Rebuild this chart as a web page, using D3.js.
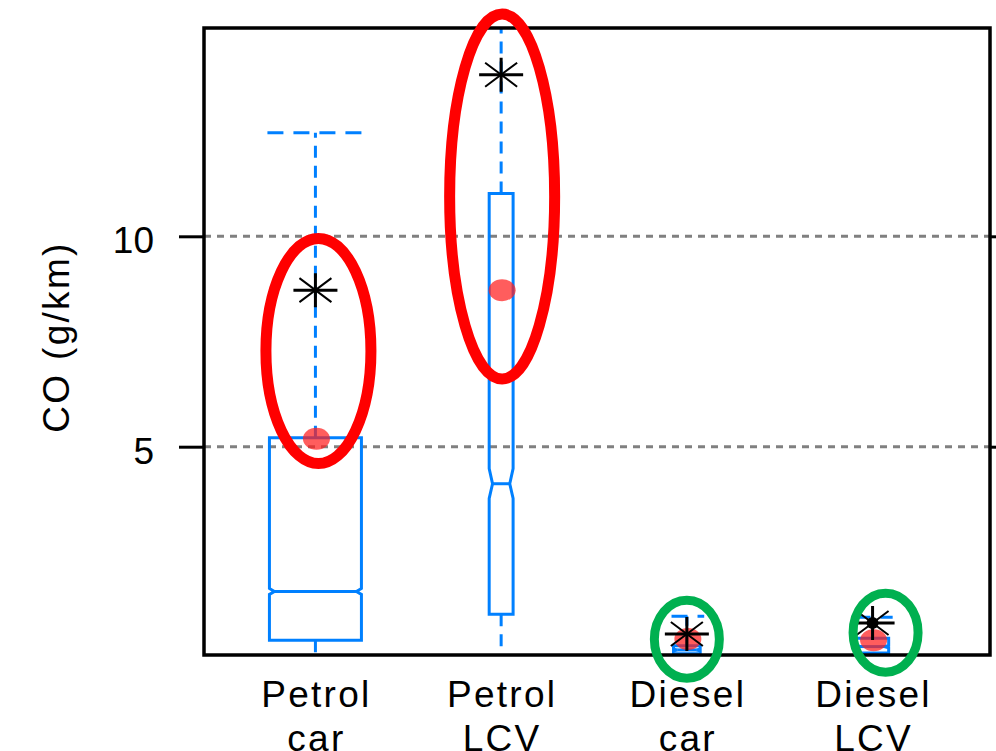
<!DOCTYPE html>
<html>
<head>
<meta charset="utf-8">
<script src="https://cdn.jsdelivr.net/npm/d3@7"></script>
<style>
  html, body { margin: 0; padding: 0; background: #fff; }
  svg { display: block; font-family: "Liberation Sans", Arial, sans-serif; }
</style>
</head>
<body>
<svg width="996" height="751"></svg>
<script>
// categories and box statistics (CO, g/km)
var categories = [["Petrol", "car"], ["Petrol", "LCV"], ["Diesel", "car"], ["Diesel", "LCV"]];
var whiskerLow  = [0.0, 0.0, 0.0, 0.0];
var q1          = [0.40, 1.02, 0.08, 0.10];
var median      = [1.56, 4.12, 0.17, 0.25];
var q3          = [5.21, 11.02, 0.27, 0.45];
var whiskerHigh = [12.46, 16.0, 0.97, 0.95];
var notchLow    = [1.49, 3.77, 0.15, 0.22];
var notchHigh   = [1.63, 4.48, 0.19, 0.28];
var relWidth    = [1, 0.26, 0.29, 0.35];
var meanStar    = [8.72, 13.84, 0.55, 0.81];
var redPoint    = [5.19, 8.72, 0.43, 0.40];
var blackPoint  = [null, null, null, 0.81];
var yTicks = [5, 10];

// annotation ellipses: category index, low and high value they cover, colour
var rings = [
  {i: 0, lo: 4.60, hi: 9.95, dx: 3, color: "#ff0000"},
  {i: 1, lo: 6.61, hi: 15.28, dx: 1, color: "#ff0000"},
  {i: 2, lo: -0.50, hi: 1.35, dx: 0, color: "#00b050"},
  {i: 3, lo: -0.36, hi: 1.52, dx: 13, color: "#00b050"}
];

(function() {
  var svg = d3.select("svg");
  var pLeft = 204, pRight = 990, pTop = 28, pBottom = 655;
  var blue = "#0080ff";
  var maxBox = 92;

  var x = d3.scalePoint().domain(d3.range(categories.length)).range([pLeft, 984]).padding(0.6);
  var y = d3.scaleLinear().domain([0.05, 14.95]).range([pBottom, pTop]);

  svg.append("defs").append("clipPath").attr("id", "plotclip")
    .append("rect").attr("x", pLeft).attr("y", pTop).attr("width", pRight - pLeft).attr("height", pBottom - pTop);

  // grid lines
  svg.append("g").selectAll("line").data(yTicks).enter().append("line")
    .attr("x1", pLeft).attr("x2", pRight)
    .attr("y1", function(d) { return y(d); }).attr("y2", function(d) { return y(d); })
    .attr("stroke", "#808080").attr("stroke-width", 3).attr("stroke-dasharray", "7,6");

  var plot = svg.append("g").attr("clip-path", "url(#plotclip)");

  var rows = categories.map(function(c, i) {
    return {i: i, lo: whiskerLow[i], q1: q1[i], med: median[i], q3: q3[i], hi: whiskerHigh[i],
      nl: notchLow[i], nh: notchHigh[i], w: relWidth[i] * maxBox,
      mean: meanStar[i], red: redPoint[i], black: blackPoint[i]};
  });

  var box = plot.selectAll("g.box").data(rows).enter().append("g").attr("class", "box");

  // whiskers
  box.append("line")
    .attr("x1", function(d) { return x(d.i); }).attr("x2", function(d) { return x(d.i); })
    .attr("y1", function(d) { return y(d.q3); }).attr("y2", function(d) { return y(d.hi); })
    .attr("stroke", blue).attr("stroke-width", 3).attr("stroke-dasharray", "12,8");
  box.append("line")
    .attr("x1", function(d) { return x(d.i); }).attr("x2", function(d) { return x(d.i); })
    .attr("y1", function(d) { return y(d.q1); }).attr("y2", function(d) { return y(d.lo); })
    .attr("stroke", blue).attr("stroke-width", 3).attr("stroke-dasharray", "12,8");

  // caps
  box.selectAll("line.cap").data(function(d) { return [[d, d.hi], [d, d.lo]]; }).enter().append("line")
    .attr("class", "cap")
    .attr("x1", function(p) { return x(p[0].i) - p[0].w / 2 - 2; })
    .attr("x2", function(p) { return x(p[0].i) + p[0].w / 2 + 4; })
    .attr("y1", function(p) { return y(p[1]); }).attr("y2", function(p) { return y(p[1]); })
    .attr("stroke", blue).attr("stroke-width", 3).attr("stroke-dasharray", "16,10");

  // notched box
  function inset(d) { return Math.min(d.w * 0.14, 5); }
  box.append("path")
    .attr("d", function(d) {
      var cx = x(d.i), h = d.w / 2, ins = inset(d);
      return "M" + (cx - h) + "," + y(d.q1) +
        "L" + (cx - h) + "," + y(d.nl) +
        "L" + (cx - h + ins) + "," + y(d.med) +
        "L" + (cx - h) + "," + y(d.nh) +
        "L" + (cx - h) + "," + y(d.q3) +
        "L" + (cx + h) + "," + y(d.q3) +
        "L" + (cx + h) + "," + y(d.nh) +
        "L" + (cx + h - ins) + "," + y(d.med) +
        "L" + (cx + h) + "," + y(d.nl) +
        "L" + (cx + h) + "," + y(d.q1) + "Z";
    })
    .attr("fill", "none").attr("stroke", blue).attr("stroke-width", 3);
  box.append("line")
    .attr("x1", function(d) { return x(d.i) - d.w / 2 + inset(d); })
    .attr("x2", function(d) { return x(d.i) + d.w / 2 - inset(d); })
    .attr("y1", function(d) { return y(d.med); }).attr("y2", function(d) { return y(d.med); })
    .attr("stroke", blue).attr("stroke-width", 3);

  // red points
  plot.selectAll("ellipse.red").data(rows).enter().append("ellipse")
    .attr("cx", function(d) { return x(d.i) + 1; })
    .attr("cy", function(d) { return y(d.red); })
    .attr("rx", 13.5).attr("ry", 11)
    .attr("fill", "rgba(255,30,30,0.72)");

  // mean asterisks
  var star = plot.selectAll("g.star").data(rows).enter().append("g")
    .attr("transform", function(d) { return "translate(" + x(d.i) + "," + y(d.mean) + ")"; });
  star.append("path").attr("d", "M-22,0L22,0M0,-17L0,17")
    .attr("stroke", "#000").attr("stroke-width", 3);
  star.append("path").attr("d", "M-16,-12L16,12M-16,12L16,-12")
    .attr("stroke", "#000").attr("stroke-width", 2);

  plot.selectAll("circle.black").data(rows.filter(function(d) { return d.black != null; }))
    .enter().append("circle")
    .attr("cx", function(d) { return x(d.i); })
    .attr("cy", function(d) { return y(d.black); })
    .attr("r", 6).attr("fill", "#000");

  // frame and ticks
  svg.append("rect").attr("x", pLeft).attr("y", pTop).attr("width", pRight - pLeft).attr("height", pBottom - pTop)
    .attr("fill", "none").attr("stroke", "#000").attr("stroke-width", 3.5);

  var yAxisL = d3.axisLeft(y).tickValues(yTicks).tickSize(25).tickPadding(25).tickFormat(d3.format("d"));
  var gL = svg.append("g").attr("transform", "translate(" + pLeft + ",0)").call(yAxisL);
  gL.select(".domain").remove();
  gL.selectAll(".tick line").attr("stroke", "#000").attr("stroke-width", 3);
  gL.selectAll(".tick text").attr("font-size", 37).attr("fill", "#000")
    .attr("font-family", "Liberation Sans, Arial, sans-serif").attr("dy", "0.45em");

  var yAxisR = d3.axisRight(y).tickValues(yTicks).tickSize(7).tickFormat("");
  var gR = svg.append("g").attr("transform", "translate(" + pRight + ",0)").call(yAxisR);
  gR.select(".domain").remove();
  gR.selectAll(".tick line").attr("stroke", "#000").attr("stroke-width", 3);

  // category labels
  var lab = svg.append("g").selectAll("text").data(categories).enter().append("text")
    .attr("text-anchor", "middle").attr("font-size", 37).attr("letter-spacing", 2.3)
    .attr("fill", "#000");
  lab.selectAll("tspan").data(function(d, i) { return d.map(function(s) { return [s, i]; }); })
    .enter().append("tspan")
    .attr("x", function(p) { return x(p[1]) + 1; })
    .attr("y", function(p, j) { return 707 + j * 44; })
    .text(function(p) { return p[0]; });

  // axis title
  svg.append("text")
    .attr("transform", "translate(69,337) rotate(-90)")
    .attr("text-anchor", "middle").attr("font-size", 37).attr("letter-spacing", 2.3)
    .attr("fill", "#000").text("CO (g/km)");

  // annotation rings
  svg.append("g").selectAll("ellipse").data(rings).enter().append("ellipse")
    .attr("cx", function(d) { return x(d.i) + d.dx; })
    .attr("cy", function(d) { return (y(d.lo) + y(d.hi)) / 2; })
    .attr("rx", function(d) { return d.color === "#ff0000" ? 52.5 : 32.5; })
    .attr("ry", function(d) { return (y(d.lo) - y(d.hi)) / 2; })
    .attr("fill", "none").attr("stroke", function(d) { return d.color; })
    .attr("stroke-width", function(d) { return d.color === "#ff0000" ? 11 : 9; });
})();
</script>
</body>
</html>
